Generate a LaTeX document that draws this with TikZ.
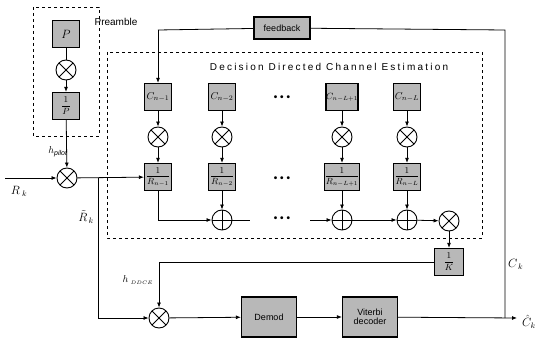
\documentclass[tikz,border=0pt]{standalone}
\usepackage{fontspec}
\setmainfont{Liberation Sans}
\newfontfamily\titlefont[LetterSpace=22]{Liberation Sans}
\usetikzlibrary{arrows.meta}
\tikzset{
  blk/.style={draw, line width=1.3pt, fill=black!28, minimum width=27pt, minimum height=27pt, inner sep=0pt, font=\small},
  cblk/.style={blk, font=\normalsize},
  wblk/.style={draw, line width=1.3pt, fill=black!28, minimum width=55pt, minimum height=40pt, inner sep=0pt, align=center, font=\small},
  mix/.style={circle, draw, line width=0.9pt, minimum size=20pt, inner sep=0pt,
    path picture={\draw[line width=0.9pt] (path picture bounding box.north west)--(path picture bounding box.south east)
      (path picture bounding box.north east)--(path picture bounding box.south west);}},
  add/.style={circle, draw, line width=0.9pt, minimum size=20pt, inner sep=0pt,
    path picture={\draw[line width=0.9pt] (path picture bounding box.north)--(path picture bounding box.south)
      (path picture bounding box.east)--(path picture bounding box.west);}},
  ln/.style={line width=0.8pt},
  arr/.style={ln, -{Latex[length=5pt,width=4pt]}},
  dbox/.style={draw, dashed, line width=0.8pt},
  dots/.style={font=\bfseries, inner sep=0pt},
  lbl/.style={inner sep=1pt, font=\large}
}
\begin{document}
\begin{tikzpicture}[x=1pt,y=-1pt]
\useasboundingbox (0,0) rectangle (537,339);
% preamble
\draw[dbox] (33,7) rectangle (99,136);
\node (pre) at (116,22) {Preamble};
\node[blk] (P) at (66,34) {\large$P$};
\node[mix] (pm) at (66,70) {};
\node[blk] (iP) at (66,106) {$\displaystyle\frac{1}{P}$};
\node[mix] (m0) at (67,178) {};
\node[inner sep=1pt] (hp) at (58,152) {$h_{\mathit{pilot}}$};
\coordinate (in) at (5,178);
\node[lbl] (Rk) at (19,191) {$R_{\;k}$};
\draw[ln] (P) -- (pm);
\draw[arr] (pm) -- (iP);
\draw[arr] (iP) -- (m0);
\draw[arr] (in) -- (m0);
% DDCE box
\draw[dbox] (107,52) rectangle (482,238);
\node (title) at (329,67) {\titlefont Decision Directed Channel Estimation};
% columns
\node[cblk] (C1) at (158,97) {$C_{n-1}$};
\node[cblk] (C2) at (222,97) {$C_{n-2}$};
\node[blk] (C3) at (342,97) {$C_{n-L+1}$};
\node[cblk] (C4) at (407,97) {$C_{n-L}$};
\node[mix] (x1) at (158,137) {};
\node[mix] (x2) at (222,137) {};
\node[mix] (x3) at (342,137) {};
\node[mix] (x4) at (407,137) {};
\node[blk] (R1) at (158,177) {$\displaystyle\frac{1}{R_{n-1}}$};
\node[blk] (R2) at (222,177) {$\displaystyle\frac{1}{R_{n-2}}$};
\node[blk] (R3) at (342,177) {$\displaystyle\frac{1}{R_{n-L+1}}$};
\node[blk] (R4) at (407,177) {$\displaystyle\frac{1}{R_{n-L}}$};
\node[add] (s2) at (222,220) {};
\node[add] (s3) at (342,220) {};
\node[add] (s4) at (407,220) {};
\node[dots] (d1) at (282,98) {\textbullet\ \textbullet\ \textbullet};
\node[dots] (d2) at (282,179) {\textbullet\ \textbullet\ \textbullet};
\node[dots] (d3) at (282,219) {\textbullet\ \textbullet\ \textbullet};
\coordinate (s1) at (158,220);
\coordinate (e2) at (250,220);
\coordinate (b3) at (310,220);
\foreach \i in {1,2,3,4}{
  \draw[arr] (C\i) -- (x\i);
  \draw[arr] (x\i) -- (R\i);
}
\draw[ln] (R1) -- (s1);
\draw[arr] (s1) -- (s2);
\draw[arr] (R2) -- (s2);
\draw[arr] (R3) -- (s3);
\draw[arr] (R4) -- (s4);
\draw[ln] (s2) -- (e2);
\draw[arr] (b3) -- (s3);
\draw[arr] (s3) -- (s4);
\node[mix] (fm) at (449,221) {};
\draw[arr] (s4) -- (fm);
\node[blk, minimum width=29pt] (iK) at (449,262) {$\displaystyle\frac{1}{K}$};
\draw[arr] (fm) -- (iK);
% pilot mixer to first R box, branch
\draw[arr] (m0) -- (R1);
\coordinate (br) at (98,178);
\coordinate (brd) at (98,318);
\node[lbl, anchor=east] (Rt) at (95,217) {$\tilde{R}_{\,k}$};
% bottom
\node[mix] (bm) at (159,318) {};
\draw[ln] (br) -- (brd);
\draw[arr] (brd) -- (bm);
\coordinate (kc) at (159,262);
\draw[ln] (iK) -- (kc);
\draw[arr] (kc) -- (bm);
\node[inner sep=1pt] (hd) at (138,280) {$h_{\;\scriptscriptstyle DDCE}$};
\node[wblk] (dem) at (269,317) {Demod};
\node[wblk] (vit) at (370,317) {Viterbi\\[-2pt]decoder};
\draw[arr] (bm) -- (dem);
\draw[arr] (dem) -- (vit);
\coordinate (out) at (517,318);
\draw[arr] (vit) -- (out);
\node[lbl, anchor=west] (Ch) at (521,322) {$\hat{C}_{k}$};
% feedback
\coordinate (fr) at (505,318);
\coordinate (ftr) at (505,30);
\coordinate (ftl) at (158,30);
\node[blk, minimum width=56pt, minimum height=22pt, font=\small] (fb) at (282,28) {feedback};
\draw[ln] (fr) -- (ftr) -- (fb);
\draw[ln] (fb) -- (ftl);
\draw[arr] (ftl) -- (C1);
\node[lbl, anchor=west] (Ck) at (507,264) {$C_{\,k}$};
\end{tikzpicture}
\end{document}
